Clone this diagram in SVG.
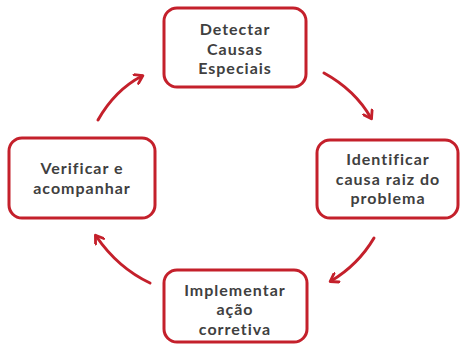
<svg xmlns="http://www.w3.org/2000/svg" width="460" height="348" viewBox="0 0 460 348">
<defs>
<marker id="ah" markerWidth="12" markerHeight="12" refX="8" refY="6" orient="auto" markerUnits="userSpaceOnUse" viewBox="0 0 12 12">
<path d="M1.5,1 L9,6 L1.5,11" fill="none" stroke="#c4202b" stroke-width="2.8" stroke-linecap="round" stroke-linejoin="round"/>
</marker>
</defs>
<style>
.box{fill:#fff;stroke:#c4202b;stroke-width:3}
.t{font-family:Lato,"Liberation Sans",sans-serif;font-size:16px;font-weight:700;letter-spacing:1px;fill:#404040;text-anchor:middle}
.c{fill:none;stroke:#c4202b;stroke-width:3;stroke-linecap:round;marker-end:url(#ah)}
</style>
<rect width="460" height="348" fill="#fff"/>
<g id="connectors">
<path class="c" d="M98,120 Q115,90 142,76"/>
<path class="c" d="M324,73 Q355,90 371,118"/>
<path class="c" d="M374,238 Q358,265 331,281"/>
<path class="c" d="M150,283 Q118,268 96,236"/>
</g>
<g id="n1">
<rect class="box" x="164" y="8" width="142" height="79" rx="13"/>
<text class="t" x="235" y="35">Detectar</text>
<text class="t" x="235" y="54.5">Causas</text>
<text class="t" x="235" y="74">Especiais</text>
</g>
<g id="n2">
<rect class="box" x="317" y="140" width="141" height="78" rx="13"/>
<text class="t" x="388" y="165">Identificar</text>
<text class="t" x="388" y="184.5">causa raiz do</text>
<text class="t" x="388" y="204">problema</text>
</g>
<g id="n3">
<rect class="box" x="164" y="270" width="143" height="72" rx="13"/>
<text class="t" x="235" y="295.5">Implementar</text>
<text class="t" x="235" y="315">ação</text>
<text class="t" x="235" y="334.5">corretiva</text>
</g>
<g id="n4">
<rect class="box" x="9" y="138" width="146" height="80" rx="13"/>
<text class="t" x="82" y="174">Verificar e</text>
<text class="t" x="82" y="194">acompanhar</text>
</g>
</svg>
